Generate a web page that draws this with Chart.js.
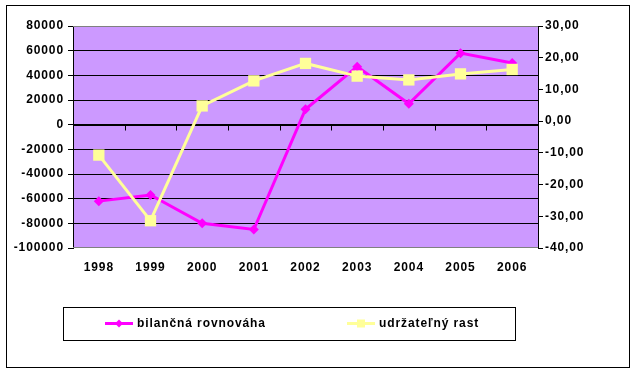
<!DOCTYPE html>
<html>
<head>
<meta charset="utf-8">
<script src="https://cdn.jsdelivr.net/npm/chart.js@4"></script>
<style>
html,body{margin:0;padding:0;background:#fff;}
canvas{display:block;}
</style>
</head>
<body>
<canvas id="c" width="637" height="384"></canvas>
<script>
const categories = ['1998','1999','2000','2001','2002','2003','2004','2005','2006'];
const bilancnaRovnovaha = [-62000,-57000,-80000,-85000,12500,47000,17000,58000,50000];
const udrzatelnyRast = [-10.7,-31.4,4.8,12.7,18.2,14.2,13.0,14.9,16.3];
const seriesNames = ['bilančná rovnováha','udržateľný rast'];
const leftAxis = {min:-100000, max:80000, step:20000};
const rightAxis = {min:-40, max:30, step:10};

const FONT = {family:'"Liberation Sans", Arial, sans-serif', size:12, weight:'bold'};
const MAGENTA = '#FF00FF';
const YELLOW = '#FFFF99';

const decor = {
  id:'decor',
  beforeLayout(chart){ chart.ctx.letterSpacing='0.9px'; },
  beforeDraw(chart){
    const {ctx, chartArea:a} = chart;
    ctx.letterSpacing='0.9px';
    ctx.save();
    ctx.fillStyle='#fff';
    ctx.fillRect(0,0,chart.width,chart.height);
    ctx.fillStyle='#CC99FF';
    ctx.fillRect(a.left,a.top,a.right-a.left,a.bottom-a.top);
    ctx.restore();
  },
  beforeDatasetsDraw(chart){
    const {ctx, chartArea:a, scales} = chart;
    ctx.save();
    ctx.strokeStyle='#808080';
    ctx.lineWidth=1;
    ctx.beginPath();
    ctx.moveTo(a.left,a.top+0.5);ctx.lineTo(a.right,a.top+0.5);
    ctx.moveTo(a.left,a.bottom-0.5);ctx.lineTo(a.right,a.bottom-0.5);
    ctx.stroke();
    const y0 = Math.round(scales.y.getPixelForValue(0))+0.5;
    ctx.strokeStyle='#000';
    ctx.beginPath();
    ctx.moveTo(a.left,y0);ctx.lineTo(a.right,y0);
    const x = scales.x;
    const w = (a.right-a.left)/categories.length;
    for(let i=1;i<categories.length;i++){
      const px = Math.round(x.getPixelForValue(i)-w/2)+0.5;
      ctx.moveTo(px,y0);ctx.lineTo(px,y0+5);
    }
    ctx.stroke();
    ctx.restore();
  },
  afterDraw(chart){
    const ctx = chart.ctx;
    ctx.save();
    ctx.strokeStyle='#000';
    ctx.lineWidth=1;
    ctx.strokeRect(6.5,5.5,623,362);
    ctx.strokeRect(63.5,307.5,452,33);
    const ly = 323.5;
    ctx.lineWidth=3;
    ctx.strokeStyle=MAGENTA;
    ctx.beginPath();ctx.moveTo(105,ly);ctx.lineTo(133,ly);ctx.stroke();
    ctx.fillStyle=MAGENTA;
    ctx.beginPath();ctx.moveTo(119,ly-4);ctx.lineTo(123,ly);ctx.lineTo(119,ly+4);ctx.lineTo(115,ly);ctx.closePath();ctx.fill();
    ctx.strokeStyle=YELLOW;
    ctx.beginPath();ctx.moveTo(347,ly);ctx.lineTo(375,ly);ctx.stroke();
    ctx.fillStyle=YELLOW;
    ctx.fillRect(357,ly-4,8,8);
    ctx.fillStyle='#000';
    ctx.font='bold 12px "Liberation Sans", Arial, sans-serif';
    ctx.letterSpacing='0.9px';
    ctx.textBaseline='middle';
    ctx.textAlign='left';
    ctx.fillText(seriesNames[0],137,ly);
    ctx.fillText(seriesNames[1],379,ly);
    ctx.restore();
  }
};

new Chart(document.getElementById('c'),{
  type:'line',
  data:{
    labels:categories,
    datasets:[
      {label:seriesNames[0],data:bilancnaRovnovaha,yAxisID:'y',borderColor:MAGENTA,backgroundColor:MAGENTA,
       borderWidth:3,pointStyle:'rectRot',pointRadius:5,pointBorderWidth:0,pointBackgroundColor:MAGENTA,tension:0,order:1},
      {label:seriesNames[1],data:udrzatelnyRast,yAxisID:'y1',borderColor:YELLOW,backgroundColor:YELLOW,
       borderWidth:3,pointStyle:'rect',pointRadius:8,pointBorderWidth:0,pointBackgroundColor:YELLOW,tension:0,order:0}
    ]
  },
  options:{
    responsive:false,
    animation:false,
    layout:{padding:{top:26,left:0,right:0,bottom:0}},
    plugins:{legend:{display:false},tooltip:{enabled:false}},
    scales:{
      x:{
        offset:true,
        grid:{display:false,drawTicks:false},
        border:{display:false},
        ticks:{color:'#000',font:FONT,padding:12,maxRotation:0,autoSkip:false},
        afterFit(s){s.height=136;}
      },
      y:{
        position:'left',
        min:leftAxis.min,max:leftAxis.max,
        ticks:{stepSize:leftAxis.step,color:'#000',font:FONT,padding:4,callback:v=>String(v)},
        grid:{color:c=>(c.tick&&(c.tick.value===leftAxis.max||c.tick.value===leftAxis.min))?'rgba(0,0,0,0)':'#000',
              tickColor:'#000',tickLength:5,lineWidth:1},
        border:{display:true,color:'#000',width:1},
        afterFit(s){s.width=73;}
      },
      y1:{
        position:'right',
        min:rightAxis.min,max:rightAxis.max,
        ticks:{stepSize:rightAxis.step,color:'#000',font:FONT,padding:2,callback:v=>v.toFixed(2).replace('.',',')},
        grid:{drawOnChartArea:false,tickColor:'#000',tickLength:5},
        border:{display:true,color:'#000',width:1},
        afterFit(s){s.width=99;}
      }
    }
  },
  plugins:[decor]
});
</script>
</body>
</html>
